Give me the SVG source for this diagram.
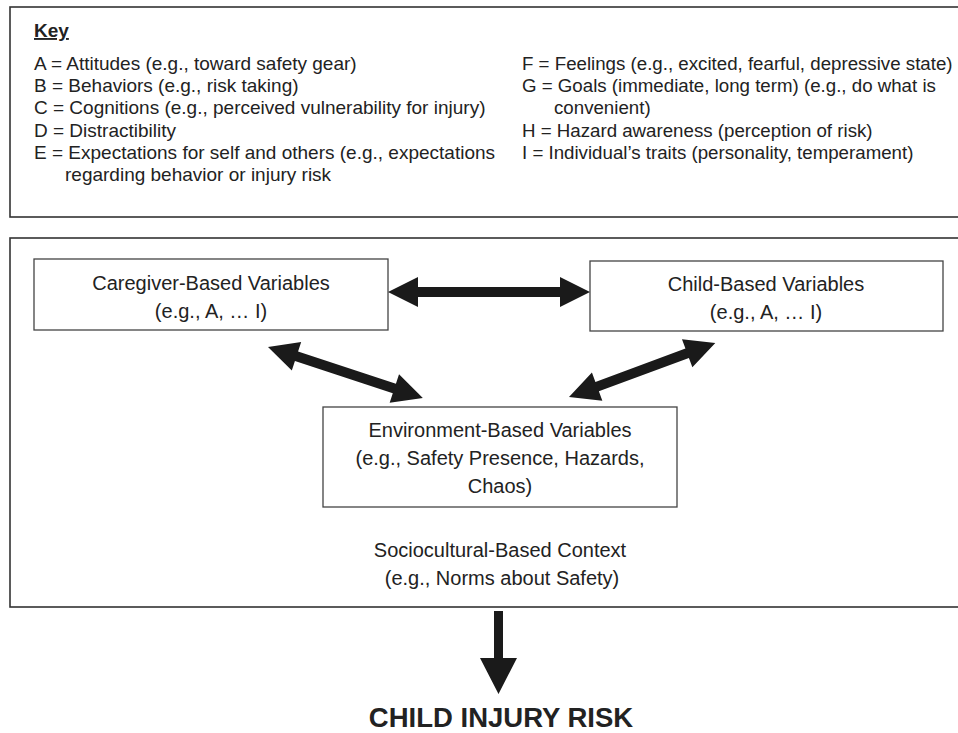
<svg xmlns="http://www.w3.org/2000/svg" width="958" height="733" viewBox="0 0 958 733">
<style>
.frame{fill:#fff;stroke:#333;stroke-width:1.6}
.box{fill:#fff;stroke:#444;stroke-width:1.3}
.k{font-family:"Liberation Sans",Arial,sans-serif;font-size:19px;fill:#222}
.kr{font-size:18.7px}
.n{font-family:"Liberation Sans",Arial,sans-serif;font-size:20px;fill:#222;text-anchor:middle}
.arrow{fill:#1a1a1a}
</style>
<rect width="958" height="733" fill="#fff"/>
<g id="key">
<rect class="frame" x="10" y="7" width="960" height="210"/>
<text class="k" x="34" y="37" font-weight="bold" text-decoration="underline">Key</text>
<text class="k" x="34" y="70">A = Attitudes (e.g., toward safety gear)</text>
<text class="k" x="34" y="92">B = Behaviors (e.g., risk taking)</text>
<text class="k" x="34" y="114">C = Cognitions (e.g., perceived vulnerability for injury)</text>
<text class="k" x="34" y="137">D = Distractibility</text>
<text class="k" x="34" y="159">E = Expectations for self and others (e.g., expectations</text>
<text class="k" x="65" y="181">regarding behavior or injury risk</text>
<text class="k kr" x="522" y="70">F = Feelings (e.g., excited, fearful, depressive state)</text>
<text class="k kr" x="522" y="92">G = Goals (immediate, long term) (e.g., do what is</text>
<text class="k kr" x="554" y="114">convenient)</text>
<text class="k kr" x="522" y="137">H = Hazard awareness (perception of risk)</text>
<text class="k kr" x="522" y="159">I = Individual’s traits (personality, temperament)</text>
</g>
<g id="context">
<rect class="frame" x="10" y="238" width="960" height="369"/>
<text class="n" x="500" y="557">Sociocultural-Based Context</text>
<text class="n" x="502" y="585">(e.g., Norms about Safety)</text>
</g>
<g id="caregiver">
<rect class="box" x="34" y="259" width="354" height="71"/>
<text class="n" x="211" y="290">Caregiver-Based Variables</text>
<text class="n" x="211" y="318">(e.g., A, … I)</text>
</g>
<g id="child">
<rect class="box" x="590" y="261" width="353" height="70"/>
<text class="n" x="766" y="291">Child-Based Variables</text>
<text class="n" x="766" y="319">(e.g., A, … I)</text>
</g>
<g id="environment">
<rect class="box" x="323" y="407" width="354" height="100"/>
<text class="n" x="500" y="437">Environment-Based Variables</text>
<text class="n" x="500" y="465">(e.g., Safety Presence, Hazards,</text>
<text class="n" x="500" y="493">Chaos)</text>
</g>
<g id="connectors">
<polygon class="arrow" transform="translate(388,292)" points="0,0 30,-15 30,-5 172,-5 172,-15 202,0 172,15 172,5 30,5 30,15"/>
<polygon class="arrow" transform="translate(268,347) rotate(18.2)" points="0,0 30,-15 30,-5 133,-5 133,-15 163,0 133,15 133,5 30,5 30,15"/>
<polygon class="arrow" transform="translate(569,397) rotate(-20.3)" points="0,0 30,-15 30,-5 126,-5 126,-15 156,0 126,15 126,5 30,5 30,15"/>
<polygon class="arrow" points="494,611 503,611 503,658 517,658 498.5,694 480,658 494,658"/>
</g>
<g id="outcome">
<text x="501" y="727" text-anchor="middle" font-family="Liberation Sans,Arial,sans-serif" font-weight="bold" font-size="27.5" fill="#222">CHILD INJURY RISK</text>
</g>
</svg>
